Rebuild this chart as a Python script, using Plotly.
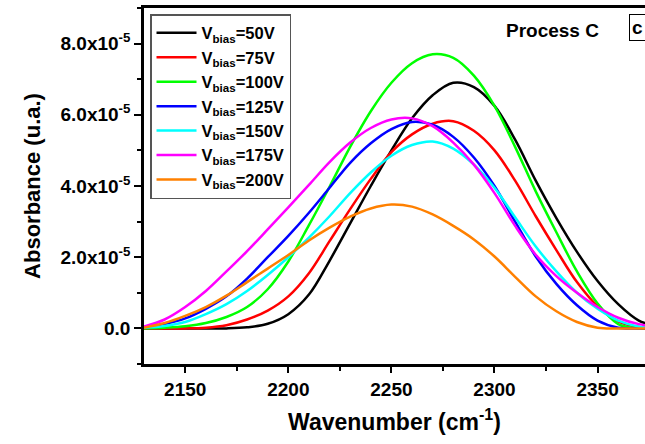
import plotly.graph_objects as go

wavenumber = [2130, 2140, 2150, 2160, 2170, 2180, 2190, 2200, 2210, 2220, 2230, 2240, 2250,
              2260, 2270, 2280, 2290, 2300, 2310, 2320, 2330, 2340, 2350, 2360, 2370, 2380]

# absorbance values in units of 1e-5
v50 = [0, 0, 0, 0, 0.0, 0.03, 0.13, 0.4, 0.95, 1.9, 2.95, 4.0, 5.0,
       5.9, 6.55, 6.9, 6.78, 6.25, 5.3, 4.15, 3.1, 2.15, 1.33, 0.68, 0.22, 0.05]
v75 = [0, 0, 0, 0.02, 0.09, 0.25, 0.5, 0.9, 1.55, 2.45, 3.35, 4.2, 4.95,
       5.45, 5.75, 5.82, 5.55, 5.0, 4.15, 3.15, 2.2, 1.3, 0.62, 0.2, 0.04, 0]
v100 = [0, 0.02, 0.06, 0.15, 0.32, 0.6, 1.1, 1.88, 2.9, 3.98, 5.1, 6.1, 6.9,
        7.45, 7.7, 7.6, 7.1, 6.25, 5.1, 3.85, 2.7, 1.6, 0.7, 0.12, 0, 0]
v125 = [0.02, 0.12, 0.28, 0.55, 0.9, 1.4, 2.0, 2.6, 3.25, 3.95, 4.65, 5.2, 5.6,
        5.8, 5.72, 5.38, 4.8, 4.0, 3.0, 2.02, 1.25, 0.65, 0.22, 0.02, 0, 0]
v150 = [0.02, 0.07, 0.18, 0.4, 0.68, 1.05, 1.5, 2.0, 2.55, 3.15, 3.8, 4.38, 4.85,
        5.15, 5.25, 5.05, 4.6, 3.95, 3.12, 2.3, 1.6, 1.0, 0.55, 0.22, 0.05, 0]
v175 = [0.05, 0.25, 0.6, 1.05, 1.6, 2.17, 2.78, 3.4, 4.03, 4.67, 5.22, 5.63, 5.87,
        5.9, 5.68, 5.22, 4.6, 3.8, 2.88, 2.07, 1.47, 1.0, 0.6, 0.3, 0.12, 0.05]
v200 = [0.02, 0.15, 0.35, 0.6, 0.92, 1.3, 1.68, 2.06, 2.47, 2.83, 3.14, 3.37, 3.48,
        3.42, 3.2, 2.88, 2.5, 2.02, 1.45, 0.9, 0.48, 0.18, 0.02, 0, 0, 0]

series_names = ["50V", "75V", "100V", "125V", "150V", "175V", "200V"]
series_vals = [v50, v75, v100, v125, v150, v175, v200]
colors = ["#000000", "#FF0000", "#00FF00", "#0000FF", "#00FFFF", "#FF00FF", "#FF8000"]

y_tickvals = [0, 2e-5, 4e-5, 6e-5, 8e-5]
y_ticktext = ["<b>0.0</b>", "<b>2.0x10<sup>-5</sup></b>", "<b>4.0x10<sup>-5</sup></b>",
              "<b>6.0x10<sup>-5</sup></b>", "<b>8.0x10<sup>-5</sup></b>"]
x_tickvals = [2150, 2200, 2250, 2300, 2350]

FONT = "Liberation Sans, Arial, sans-serif"

fig = go.Figure()
for name, vals, col in zip(series_names, series_vals, colors):
    fig.add_trace(go.Scatter(
        x=wavenumber, y=[v * 1e-5 for v in vals], mode="lines",
        line=dict(color=col, width=2.5, shape="spline", smoothing=1.0),
        name=f"<b>V<sub>bias</sub>={name}</b>",
    ))

fig.update_layout(
    width=645, height=444,
    margin=dict(l=144, r=0, t=8, b=80),
    paper_bgcolor="white", plot_bgcolor="white",
    font=dict(family=FONT, color="black", size=17),
    showlegend=True,
    legend=dict(
        x=0.012, y=0.983, xanchor="left", yanchor="top",
        bgcolor="white", bordercolor="#555555", borderwidth=1.5,
        font=dict(family=FONT, size=16.5, color="black"),
        itemwidth=40, tracegroupgap=0,
    ),
    xaxis=dict(
        range=[2130, 2373], showgrid=False, zeroline=False,
        showline=True, linecolor="black", linewidth=2.5, mirror=True,
        ticks="outside", ticklen=6, tickwidth=2, tickcolor="black",
        tickvals=x_tickvals, ticktext=[f"<b>{v}</b>" for v in x_tickvals],
        tickfont=dict(family=FONT, size=19, color="black"),
        minor=dict(ticks="outside", ticklen=4, tickwidth=2, tickcolor="black", dtick=25, tick0=2125),
        title=dict(text="<b>Wavenumber (cm<sup>-1</sup>)</b>", font=dict(family=FONT, size=23), standoff=16),
    ),
    yaxis=dict(
        range=[-1e-5, 9e-5], showgrid=False, zeroline=False,
        showline=True, linecolor="black", linewidth=2.5, mirror=False,
        ticks="outside", ticklen=7, tickwidth=2, tickcolor="black",
        tickvals=y_tickvals, ticktext=y_ticktext,
        tickfont=dict(family=FONT, size=19, color="black"),
        minor=dict(ticks="outside", ticklen=4, tickwidth=2, tickcolor="black", dtick=1e-5, tick0=-1e-5),
        title=dict(text="<b>Absorbance (u.a.)</b>", font=dict(family=FONT, size=22), standoff=14),
    ),
    annotations=[
        dict(text="<b>Process C</b>", x=0.816, y=0.938, xref="paper", yref="paper",
             xanchor="center", yanchor="middle",
             showarrow=False, font=dict(family=FONT, size=19, color="black")),
        dict(text="<b>c</b>", x=0.968, y=0.944, xref="paper", yref="paper",
             xanchor="left", yanchor="middle", showarrow=False,
             font=dict(family=FONT, size=19, color="black"),
             bordercolor="black", borderwidth=1, borderpad=2, bgcolor="white"),
    ],
)

fig.write_html("out.html")
